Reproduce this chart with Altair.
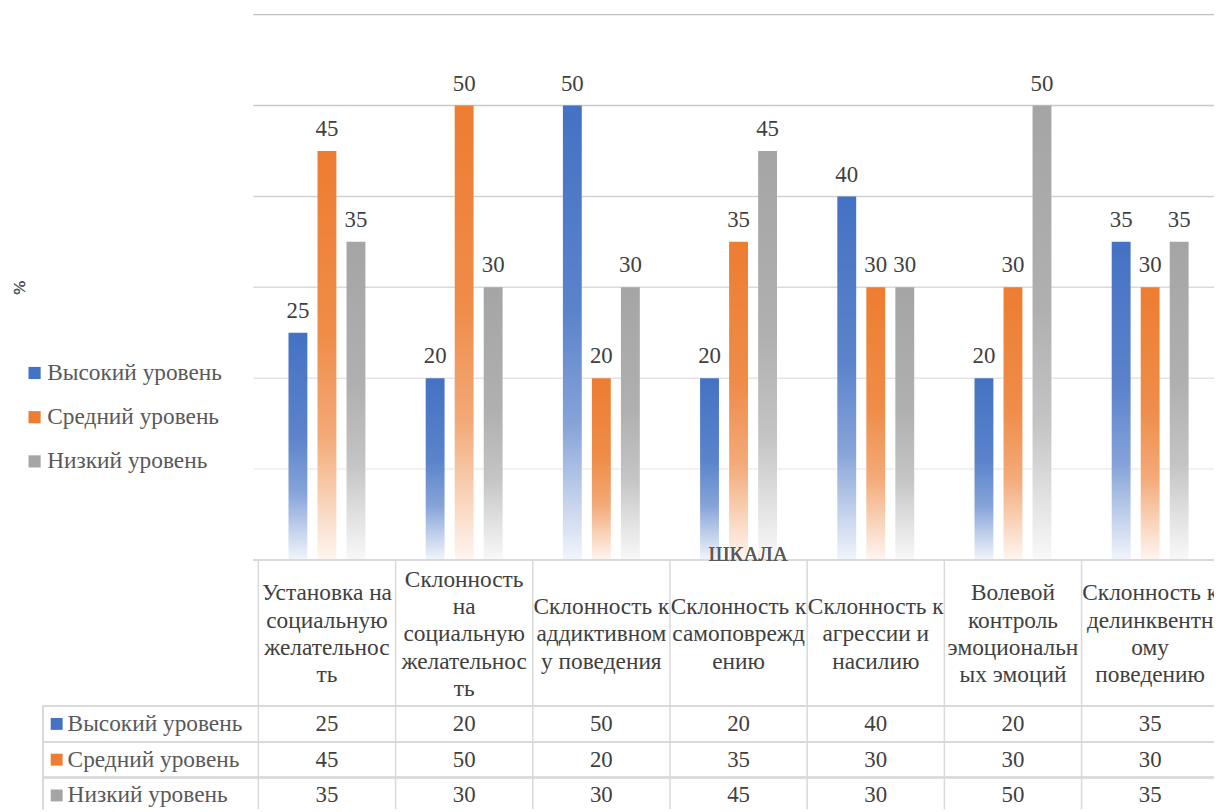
import altair as alt
import pandas as pd

# ---------------- data ----------------
categories = [
    ["Установка на", "социальную", "желательнос", "ть"],
    ["Склонность", "на", "социальную", "желательнос", "ть"],
    ["Склонность к", "аддиктивном", "у поведения"],
    ["Склонность к", "самоповрежд", "ению"],
    ["Склонность к", "агрессии и", "насилию"],
    ["Волевой", "контроль", "эмоциональн", "ых эмоций"],
    ["Склонность к", "делинквентн", "ому", "поведению"],
]
series = ["Высокий уровень", "Средний уровень", "Низкий уровень"]
high = [25, 20, 50, 20, 40, 20, 35]
mid = [45, 50, 20, 35, 30, 30, 30]
low = [35, 30, 30, 45, 30, 50, 35]
grid_values = [10, 20, 30, 40, 50, 60]
colors = ["#4472C4", "#ED7D31", "#A5A5A5"]
x_title = "ШКАЛА"
y_title = "%"

FONT = "Liberation Serif"
TXT = "#404040"
GRAY = "#595959"
BORDER = "#d9d9d9"
FS = 23
FSL = 23.5

rows = []
for ci in range(len(categories)):
    for si, vals in enumerate([high, mid, low]):
        rows.append({"cat": ci, "si": si, "series": series[si], "value": vals[ci]})
df = pd.DataFrame(rows)
hrows = []
for ci, lines in enumerate(categories):
    for li, t in enumerate(lines):
        hrows.append({"cat": ci, "li": li, "n": len(lines), "t": t})
hdr = pd.DataFrame(hrows)
bounds = pd.DataFrame({"b": list(range(len(categories) + 1))})
grid = pd.DataFrame({"g": grid_values})
ser = pd.DataFrame({"series": series})

W, H = 967, 804
X = alt.Scale(domain=[0, 7], range=[0, 976.8], nice=False, zero=False)
Y = alt.Scale(domain=[0, 60], range=[553, 4], nice=False, zero=False)
ROW = alt.Scale(type="point", domain=series, range=[718, 790], padding=0)
LINE = alt.Scale(domain=[-2, 2], range=[628 - 55, 628 + 55], nice=False, zero=False)
COL = alt.Scale(domain=series, range=colors)

base = alt.Chart(df).transform_calculate(
    xb="datum.cat + 0.5 + (datum.si - 1) * 0.2115"
)

gridlines = alt.Chart(grid).mark_rule(strokeWidth=1.5).encode(
    y=alt.Y("g:Q", scale=Y, axis=None),
    x=alt.value(0), x2=alt.value(W),
    stroke=alt.Stroke("g:Q", scale=alt.Scale(domain=[10, 60], range=["#ededed", "#bfbfbf"]), legend=None),
)

bars = base.mark_bar(size=19, orient="vertical").encode(
    x=alt.X("xb:Q", scale=X, axis=None),
    y=alt.Y("value:Q", scale=Y, axis=None),
    y2=alt.datum(0),
    color=alt.Color("series:N", scale=COL, sort=series, legend=alt.Legend(
        orient="none", legendX=-232, legendY=353, title=None,
        symbolType="square", symbolSize=150, symbolStrokeWidth=0,
        labelFont=FONT, labelFontSize=FSL, labelColor=GRAY, labelLimit=400,
        labelOffset=1, rowPadding=19.5)),
)

fade = {
    "gradient": "linear", "x1": 0, "y1": 0, "x2": 0, "y2": 1,
    "stops": [
        {"offset": 0, "color": "rgba(255,255,255,0)"},
        {"offset": 0.45, "color": "rgba(255,255,255,0.12)"},
        {"offset": 0.7, "color": "rgba(255,255,255,0.35)"},
        {"offset": 0.88, "color": "rgba(255,255,255,0.7)"},
        {"offset": 1, "color": "rgba(255,255,255,0.93)"},
    ],
}
overlay = base.mark_bar(size=21, orient="vertical", fill=fade).encode(
    x=alt.X("xb:Q", scale=X, axis=None),
    y=alt.Y("value:Q", scale=Y, axis=None),
    y2=alt.datum(0),
)

labels = base.mark_text(font=FONT, fontSize=FS, color=TXT, baseline="alphabetic", dy=-15).encode(
    x=alt.X("xb:Q", scale=X, axis=None),
    y=alt.Y("value:Q", scale=Y, axis=None),
    text="value:Q",
)

vlines = alt.Chart(bounds).mark_rule(color=BORDER, strokeWidth=1.5).encode(
    x=alt.X("b:Q", scale=X, axis=None),
    y=alt.value(553), y2=alt.value(H),
)
top_line = alt.Chart(bounds).mark_rule(color=BORDER, strokeWidth=1.5).encode(
    x=alt.value(0), x2=alt.value(W), y=alt.value(553))
row_lines = [
    alt.Chart(bounds).mark_rule(color=BORDER, strokeWidth=1.5).encode(
        x=alt.value(-212), x2=alt.value(W), y=alt.value(v))
    for v in (700, 736, 772)
]
left_line = alt.Chart(bounds).mark_rule(color=BORDER, strokeWidth=1.5).encode(
    x=alt.value(-212), y=alt.value(700), y2=alt.value(H))

headers = alt.Chart(hdr).mark_text(font=FONT, fontSize=FSL, color=TXT, baseline="middle", align="center").encode(
    x=alt.X("cat_c:Q", scale=X, axis=None),
    y=alt.Y("off:Q", scale=LINE, axis=None),
    text="t:N",
).transform_calculate(cat_c="datum.cat + 0.5", off="datum.li - (datum.n - 1) / 2")

cells = alt.Chart(df).mark_text(font=FONT, fontSize=FS, color=TXT, baseline="middle").encode(
    x=alt.X("cat_c:Q", scale=X, axis=None),
    y=alt.Y("series:N", scale=ROW, axis=None),
    text="value:Q",
).transform_calculate(cat_c="datum.cat + 0.5")

row_keys = alt.Chart(ser).mark_square(size=144, opacity=1).encode(
    x=alt.value(-198),
    y=alt.Y("series:N", scale=ROW, axis=None),
    color=alt.Color("series:N", scale=COL, legend=None),
)
row_text = alt.Chart(ser).mark_text(font=FONT, fontSize=FSL, color=GRAY, align="left", baseline="middle").encode(
    x=alt.value(-187),
    y=alt.Y("series:N", scale=ROW, axis=None),
    text="series:N",
)

xt = alt.Chart(ser).mark_text(font=FONT, fontSize=21, color=GRAY, baseline="alphabetic").encode(
    x=alt.value(498), y=alt.value(554), text=alt.value(x_title))
yt = alt.Chart(ser).mark_text(font=FONT, fontSize=17, color=GRAY, angle=270, baseline="middle").encode(
    x=alt.value(-235), y=alt.value(279), text=alt.value(y_title))

chart = alt.layer(
    gridlines, bars, overlay, labels, vlines, top_line, *row_lines, left_line,
    headers, cells, row_keys, row_text, xt, yt
).resolve_scale(y="independent").properties(
    width=W, height=H,
    autosize=alt.AutoSizeParams(type="none"),
    padding={"left": 247, "top": 0, "right": 0, "bottom": 0},
    background="white",
).configure_view(strokeWidth=0)

chart.save("out.html", embed_options={"renderer": "svg", "actions": False})
